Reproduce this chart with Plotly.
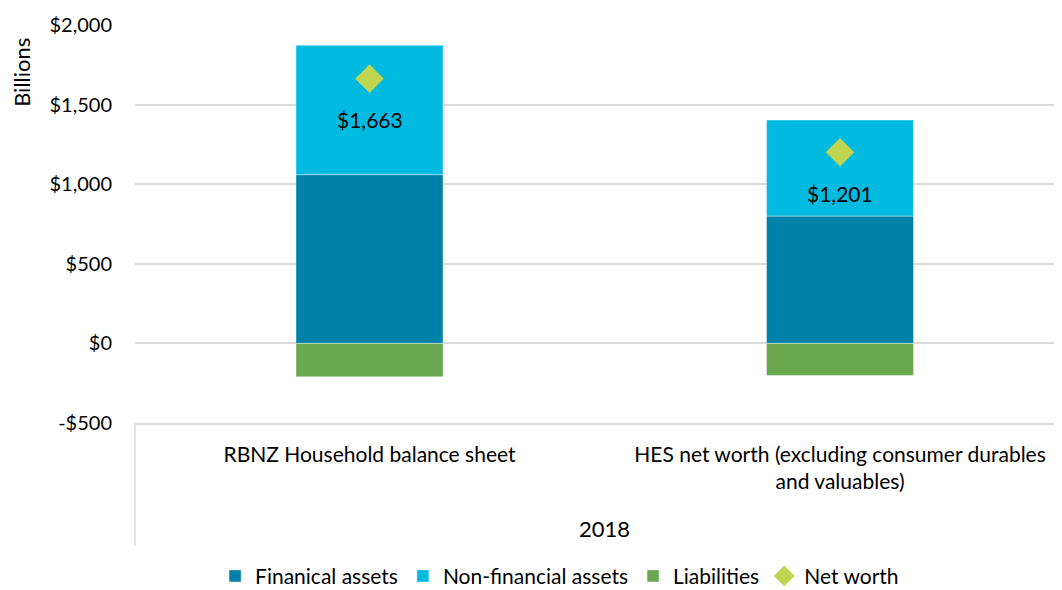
import plotly.graph_objects as go

categories = ["RBNZ Household balance sheet",
              "HES net worth (excluding consumer durables<br>and valuables)"]
financial = [1060, 800]
non_financial = [813, 603]
liabilities = [-210, -202]
net_worth = [1663, 1201]
y_ticks = [-500, 0, 500, 1000, 1500, 2000]
y_tick_labels = ["-$500", "$0", "$500", "$1,000", "$1,500", "$2,000"]
year_label = "2018"

font_family = "Lato, 'Open Sans', sans-serif"
bar_w = 0.3125
edge = dict(color="rgba(255,255,255,0.5)", width=0.8)

fig = go.Figure()
fig.add_trace(go.Bar(x=categories, y=financial, name="Finanical assets",
                     marker_color="#0081AA", width=bar_w, marker_line=edge))
fig.add_trace(go.Bar(x=categories, y=non_financial, name="Non-financial assets",
                     marker_color="#00BAE0", width=bar_w, marker_line=edge))
fig.add_trace(go.Bar(x=categories, y=liabilities, name="Liabilities",
                     marker_color="#6AA84F", width=bar_w, marker_line=edge))
fig.add_trace(go.Scatter(x=categories, y=net_worth, name="Net worth", mode="markers",
                         marker=dict(symbol="diamond", size=22, color="#BFD54F")))

# data labels under the diamonds
for c, v in zip(categories, net_worth):
    fig.add_annotation(x=c, y=v, text="${:,}".format(v), showarrow=False,
                       yshift=-41, font=dict(size=21, color="black", family=font_family))

fig.add_annotation(xref="paper", yref="paper", x=0.507, y=-0.264, text=year_label,
                   xanchor="center", yanchor="middle", showarrow=False,
                   font=dict(size=22, color="black", family=font_family))
fig.add_annotation(xref="paper", yref="paper", x=-0.122, y=0.882, text="Billions",
                   xanchor="center", yanchor="middle", textangle=-90, showarrow=False,
                   font=dict(size=22, color="black", family=font_family))

# vertical divider line below the category axis
fig.add_shape(type="line", xref="paper", yref="paper", x0=0, x1=0, y0=0, y1=-0.307,
              line=dict(color="#d9d9d9", width=1.5))

# page body has an 8px margin, so the figure is 8px smaller than the window
fig.update_layout(
    barmode="relative",
    width=1054, height=582,
    margin=dict(l=127, r=0, t=17, b=167, autoexpand=False),
    plot_bgcolor="white", paper_bgcolor="white",
    font=dict(family=font_family, size=20, color="black"),
    legend=dict(orientation="h", x=0.458, xanchor="center", y=-0.385, yanchor="middle",
                font=dict(size=21), itemwidth=30, tracegroupgap=0),
    xaxis=dict(range=[-0.4984, 1.4718], showline=True, linecolor="#d9d9d9", linewidth=1.5,
               ticks="", showgrid=False, ticklabelstandoff=12, automargin=False,
               tickfont=dict(size=21)),
    yaxis=dict(range=[-500, 2000], tickvals=y_ticks, ticktext=y_tick_labels,
               showgrid=True, gridcolor="#d9d9d9", gridwidth=1.5, zeroline=False,
               showline=False, ticklabelstandoff=22, automargin=False,
               tickfont=dict(size=20)),
)

fig.write_html("out.html")
